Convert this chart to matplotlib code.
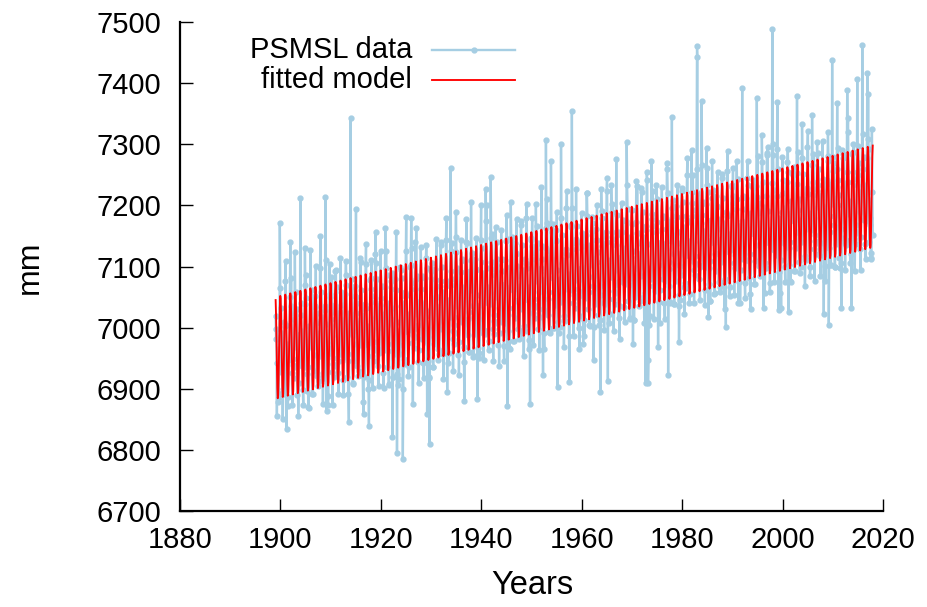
import numpy as np
import matplotlib
matplotlib.use('Agg')
import matplotlib.pyplot as plt

plt.rcParams['font.family'] = ['Liberation Sans', 'DejaVu Sans']

# monthly mean sea level (mm), one row per year, Jan..Dec
first_year = 1899
sea_level = [
    [7019, 6981, 6998, 6856, 6942, 6878, 6943, 6887, 6965, 6928, 7172, 7065],  # 1899
    [6987, 7033, 6950, 6992, 6894, 6850, 6900, 6944, 6892, 7010, 7003, 7077],
    [7109, 7005, 6834, 6974, 6956, 6872, 6887, 6966, 6964, 6947, 7050, 7140],
    [7036, 7082, 7024, 6926, 6873, 6939, 6949, 6918, 6936, 7014, 7124, 7031],
    [7058, 6969, 7031, 6978, 6890, 6951, 6856, 6910, 6983, 6971, 6989, 7212],
    [7020, 7041, 6938, 6995, 6972, 6898, 6873, 6982, 6935, 7038, 7130, 7070],
    [7087, 7048, 6965, 6897, 6924, 6935, 6870, 6869, 7002, 6970, 6978, 7127],
    [7049, 7005, 7062, 6974, 6891, 6892, 6977, 6956, 6929, 7052, 7035, 7034],
    [7101, 7007, 7024, 6921, 6968, 6904, 6969, 6913, 6991, 6954, 7097, 7150],
    [7013, 7059, 6976, 7018, 6920, 6876, 6926, 6970, 6918, 7036, 7029, 7214],
    [7110, 7006, 6864, 6975, 6957, 6873, 6888, 6967, 6965, 7105, 7051, 7055],  # 1909
    [7037, 7083, 7025, 6927, 6874, 6940, 6950, 6919, 6937, 7015, 7093, 7032],
    [7094, 7005, 7067, 7014, 6926, 6987, 6892, 6946, 7019, 7007, 7025, 7114],
    [7037, 7058, 6955, 7012, 6989, 6915, 6890, 6999, 6952, 7055, 7003, 7087],
    [7109, 7070, 6987, 6919, 6946, 6957, 6892, 6846, 7024, 6992, 7000, 7343],
    [7066, 7022, 7079, 6991, 6908, 6909, 6994, 6973, 6946, 7069, 7052, 7051],
    [7194, 7024, 7041, 6938, 6985, 6921, 6986, 6930, 7008, 6971, 7114, 7108],
    [7015, 7061, 6978, 7020, 6922, 6878, 6859, 6972, 6920, 7038, 7031, 7105],
    [7137, 7033, 6980, 7002, 6984, 6900, 6915, 6839, 6992, 6975, 7078, 7082],
    [7064, 7110, 7052, 6954, 6901, 6967, 6977, 6946, 6964, 7042, 7120, 7157],
    [7106, 7017, 7079, 7026, 6938, 6999, 6904, 6958, 7031, 7019, 7037, 7126],  # 1919
    [7048, 7069, 6966, 7023, 7000, 6926, 6901, 7010, 6963, 7066, 7163, 7098],
    [7125, 7086, 7003, 6935, 6962, 6973, 6908, 6907, 7040, 7008, 7016, 7085],
    [7077, 7033, 7090, 6821, 6919, 6920, 7005, 6984, 6957, 7080, 7063, 7062],
    [7157, 7010, 6795, 6924, 6971, 6907, 6972, 6916, 6994, 6957, 7100, 7094],
    [7036, 7082, 6999, 7041, 6785, 6899, 6949, 6993, 6941, 7059, 7052, 7126],
    [7181, 7054, 7001, 7023, 7005, 6921, 6936, 7015, 7013, 6996, 7099, 7103],
    [7180, 7131, 7073, 6975, 6875, 6988, 6998, 6967, 6985, 7063, 7141, 7080],
    [7163, 7023, 7085, 7032, 6944, 7005, 6910, 6964, 7037, 7025, 7043, 7132],
    [7064, 7085, 6982, 7039, 7016, 6942, 6917, 7026, 6979, 7082, 7030, 7114],
    [7136, 7097, 6859, 6946, 6973, 6984, 6919, 6918, 6810, 7019, 7027, 7096],  # 1929
    [7093, 7049, 7106, 7018, 6935, 6936, 7021, 7000, 6973, 7096, 7079, 7078],
    [7145, 7051, 7068, 6965, 7012, 6948, 7013, 6957, 7035, 6998, 7141, 7135],
    [7053, 7099, 7016, 7058, 6960, 6916, 6966, 7010, 6958, 7076, 7069, 7143],
    [7180, 7076, 6895, 7045, 7027, 6943, 6958, 7037, 7035, 7018, 7261, 7125],
    [7092, 7138, 7080, 6982, 6929, 6995, 7005, 6974, 6992, 7070, 7148, 7190],
    [7124, 7035, 7097, 7044, 6956, 7017, 6922, 6976, 7049, 7037, 7055, 7144],
    [7091, 7112, 7009, 7066, 7043, 6969, 6944, 6880, 7006, 7109, 7057, 7141],
    [7178, 7139, 7056, 6988, 7015, 7026, 6961, 6960, 7093, 7061, 7069, 7205],
    [7110, 7066, 7123, 7035, 6952, 6953, 7038, 7017, 6990, 7113, 7096, 7095],
    [7147, 7053, 6883, 6967, 7014, 6950, 7015, 6959, 7037, 7000, 7143, 7200],  # 1939
    [7084, 7130, 7047, 7089, 6991, 6947, 6997, 7041, 6989, 7107, 7227, 7174],
    [7201, 7097, 7044, 7066, 7048, 6964, 6979, 7058, 7056, 7039, 7246, 7146],
    [7108, 7154, 7096, 6998, 6945, 7011, 7021, 6990, 7008, 7086, 7164, 7103],
    [7140, 7051, 7113, 7060, 6972, 7033, 6938, 6992, 7065, 7053, 7071, 7160],
    [7092, 7113, 7010, 7067, 7044, 6970, 6945, 7054, 7007, 7110, 7058, 7142],
    [7184, 7145, 6872, 6994, 7021, 7032, 6967, 6966, 7099, 7067, 7205, 7144],
    [7136, 7092, 7149, 7061, 6978, 6979, 7064, 7043, 7016, 7139, 7122, 7121],
    [7178, 7084, 7101, 6998, 7045, 6981, 7046, 6990, 7068, 7031, 7174, 7168],
    [7090, 7136, 7053, 7095, 6997, 6953, 7003, 7047, 6995, 7113, 7106, 7180],
    [7202, 7098, 7045, 7067, 7049, 6965, 6980, 7059, 6875, 7040, 7143, 7147],  # 1949
    [7134, 7180, 7122, 7024, 6971, 7037, 7047, 7016, 7034, 7112, 7203, 7129],
    [7166, 7077, 7139, 7086, 6998, 7059, 6964, 7018, 7091, 7079, 7097, 7230],
    [7113, 7134, 7031, 6922, 7065, 6991, 6966, 7075, 7028, 7131, 7307, 7163],
    [7210, 7171, 7088, 7020, 7047, 7058, 6993, 6992, 7125, 7093, 7273, 7170],
    [7157, 7113, 7170, 7082, 6999, 7000, 7085, 7064, 7037, 7160, 7143, 7142],
    [7189, 7095, 6903, 7009, 7056, 6992, 7057, 7001, 7079, 7042, 7301, 7179],
    [7106, 7152, 7069, 7111, 7013, 6969, 7019, 7063, 7011, 7129, 7122, 7196],
    [7223, 7119, 7066, 7088, 7070, 6986, 6912, 7080, 7078, 7061, 7164, 7168],
    [7355, 7196, 7138, 7040, 6987, 7053, 7063, 7032, 7050, 7128, 7227, 7145],
    [7167, 7078, 7140, 7087, 6999, 7060, 6965, 7019, 7092, 7080, 7098, 7187],  # 1959
    [7134, 7155, 7052, 6973, 7086, 7012, 6987, 7096, 7049, 7152, 7100, 7221],
    [7221, 7182, 7099, 7031, 7058, 7069, 7004, 7003, 7136, 7104, 7112, 7181],
    [7158, 7114, 7171, 7083, 6947, 7001, 7086, 7065, 7038, 7161, 7144, 7143],
    [7201, 7107, 7124, 7021, 7068, 7004, 7069, 7013, 6895, 7054, 7227, 7191],
    [7133, 7179, 7096, 7138, 7040, 6996, 7046, 7090, 7038, 7156, 7149, 7223],
    [7245, 7141, 6913, 7110, 7092, 7008, 7023, 7102, 7100, 7083, 7234, 7190],
    [7157, 7203, 7145, 7047, 6994, 7060, 7070, 7039, 7057, 7135, 7276, 7152],
    [7184, 7095, 7157, 7104, 7016, 7077, 6982, 7036, 7109, 7097, 7115, 7204],
    [7156, 7177, 7074, 7131, 7108, 7034, 7009, 7118, 7071, 7174, 7122, 7304],
    [7233, 7194, 7111, 7043, 7070, 7081, 7016, 7015, 7148, 7116, 7124, 7193],  # 1969
    [7170, 7126, 6973, 7095, 7012, 7013, 7098, 7077, 7050, 7173, 7240, 7155],
    [7232, 7138, 7155, 7052, 7099, 7035, 7100, 7044, 7122, 7085, 7228, 7222],
    [7144, 7190, 7107, 7149, 7051, 7007, 7057, 7101, 6910, 7167, 7160, 7255],
    [7241, 7137, 6910, 6948, 7088, 7004, 7019, 7098, 7096, 7079, 7273, 7186],
    [7178, 7224, 7166, 7068, 7015, 7081, 7091, 7060, 7078, 7156, 7234, 7173],
    [7210, 7121, 6968, 7130, 7042, 7103, 7008, 7062, 7135, 7123, 7141, 7230],
    [7162, 7183, 7080, 7137, 7114, 7040, 7015, 7124, 7077, 7180, 7128, 7270],
    [7259, 7220, 6922, 7069, 7096, 7107, 7042, 7041, 7174, 7142, 7150, 7345],
    [7196, 7152, 7209, 7121, 7038, 7039, 7124, 7103, 7076, 7199, 7182, 7181],
    [7233, 7139, 7156, 7053, 6977, 7036, 7101, 7045, 7123, 7086, 7229, 7223],  # 1979
    [7160, 7206, 7123, 7165, 7067, 7023, 7073, 7117, 7065, 7183, 7176, 7250],
    [7277, 7173, 7120, 7142, 7124, 7040, 7055, 7134, 7132, 7115, 7290, 7222],
    [7204, 7250, 7192, 7094, 7041, 7107, 7117, 7086, 7104, 7182, 7260, 7461],
    [7443, 7158, 7220, 7167, 7079, 7140, 7045, 7099, 7172, 7160, 7371, 7267],
    [7184, 7205, 7102, 7159, 7136, 7062, 7037, 7146, 7099, 7202, 7294, 7234],
    [7261, 7222, 7017, 7071, 7098, 7109, 7044, 7043, 7176, 7144, 7152, 7273],
    [7213, 7169, 7226, 7138, 7055, 7056, 7141, 7120, 7093, 7216, 7199, 7198],
    [7255, 7161, 7178, 7075, 7122, 7058, 7123, 7067, 7145, 7108, 7251, 7245],
    [7167, 7213, 7130, 7172, 7074, 7030, 7080, 7124, 7001, 7190, 7183, 7257],
    [7289, 7185, 7132, 7154, 7136, 7052, 7067, 7146, 7144, 7127, 7230, 7234],  # 1989
    [7216, 7262, 7204, 7106, 7053, 7119, 7129, 7098, 7116, 7194, 7272, 7211],
    [7243, 7154, 7040, 7163, 7075, 7136, 7041, 7095, 7168, 7156, 7174, 7392],
    [7195, 7216, 7113, 7170, 7147, 7073, 7048, 7157, 7110, 7213, 7161, 7245],
    [7272, 7233, 7150, 7082, 7109, 7120, 7055, 7031, 7187, 7155, 7163, 7232],
    [7229, 7185, 7242, 7154, 7071, 7072, 7157, 7136, 7109, 7232, 7376, 7214],
    [7281, 7187, 7204, 7101, 7148, 7084, 7149, 7093, 7171, 7134, 7315, 7271],
    [7193, 7239, 7032, 7198, 7100, 7056, 7106, 7150, 7098, 7216, 7286, 7283],
    [7295, 7191, 7138, 7160, 7142, 7058, 7073, 7152, 7150, 7133, 7236, 7489],
    [7300, 7283, 7225, 7127, 7074, 7140, 7150, 7119, 7137, 7215, 7293, 7369],
    [7259, 7170, 7029, 7179, 7091, 7152, 7057, 7111, 7032, 7172, 7190, 7279],  # 1999
    [7221, 7242, 7139, 7196, 7173, 7099, 7074, 7183, 7136, 7239, 7187, 7271],
    [7293, 7254, 7026, 7103, 7130, 7141, 7076, 7075, 7208, 7176, 7184, 7253],
    [7250, 7206, 7263, 7175, 7092, 7093, 7178, 7157, 7130, 7253, 7379, 7235],
    [7287, 7193, 7210, 7107, 7154, 7090, 7155, 7099, 7177, 7140, 7333, 7277],
    [7205, 7251, 7168, 7210, 7112, 7068, 7118, 7162, 7110, 7228, 7221, 7295],
    [7322, 7218, 7165, 7187, 7169, 7085, 7100, 7179, 7177, 7160, 7348, 7267],
    [7239, 7285, 7227, 7129, 7076, 7142, 7152, 7121, 7139, 7217, 7304, 7234],
    [7286, 7197, 7259, 7206, 7118, 7179, 7084, 7138, 7211, 7199, 7217, 7306],
    [7223, 7244, 7022, 7198, 7175, 7101, 7076, 7185, 7138, 7241, 7189, 7273],
    [7320, 7281, 7004, 7130, 7157, 7168, 7103, 7102, 7235, 7203, 7438, 7280],  # 2009
    [7257, 7213, 7270, 7182, 7099, 7100, 7185, 7164, 7137, 7260, 7367, 7242],
    [7294, 7200, 7217, 7114, 7161, 7097, 7162, 7106, 7032, 7147, 7290, 7284],
    [7231, 7277, 7194, 7236, 7138, 7094, 7144, 7188, 7136, 7254, 7389, 7321],
    [7343, 7239, 7186, 7208, 7190, 7106, 7121, 7200, 7032, 7181, 7284, 7288],
    [7255, 7301, 7243, 7145, 7092, 7158, 7168, 7137, 7155, 7233, 7407, 7250],
    [7297, 7208, 7270, 7217, 7129, 7190, 7095, 7149, 7222, 7210, 7463, 7317],
    [7259, 7280, 7177, 7234, 7211, 7137, 7112, 7221, 7174, 7277, 7416, 7309],
    [7382, 7292, 7209, 7141, 7168, 7179, 7114, 7113, 7122, 7325, 7222, 7152],  # 2017
]

x_ticks = [1880, 1900, 1920, 1940, 1960, 1980, 2000, 2020]
y_ticks = [6700, 6800, 6900, 7000, 7100, 7200, 7300, 7400, 7500]

data_color = '#a6cee3'
model_color = '#ff0000'

# time axis in decimal years (mid-month)
level = np.array(sea_level, dtype=float)
years = first_year + np.arange(level.shape[0])
t = (years[:, None] + (np.arange(12) + 0.5) / 12.0).ravel()
h = level.ravel()

# least squares fit: linear trend + annual cycle
A = np.column_stack([np.ones_like(t), t - t.mean(),
                     np.cos(2 * np.pi * t), np.sin(2 * np.pi * t)])
coef, *_ = np.linalg.lstsq(A, h, rcond=None)
model = A @ coef

fig = plt.figure(figsize=(9.28, 6.07), dpi=100)
ax = fig.add_axes([0.194, 0.158, 0.7575, 0.8056])

ax.plot(t, h, color=data_color, lw=1.7, marker='o', ms=3.5, zorder=2)
ax.plot(t, model, color=model_color, lw=1.35, zorder=3)

ax.set_xlim(1880, 2020)
ax.set_ylim(6700, 7500)
ax.set_xticks(x_ticks)
ax.set_yticks(y_ticks)

# gnuplot-like frame: only left and bottom, ticks inward
for side in ['top', 'right']:
    ax.spines[side].set_visible(False)
for side in ['left', 'bottom']:
    ax.spines[side].set_linewidth(1.6)
ax.tick_params(axis='both', direction='in', length=9, width=1.0,
               labelsize=21, colors='black')
ax.tick_params(axis='y', pad=13.5)
ax.tick_params(axis='x', pad=10.5)

ax.set_xlabel('Years', fontsize=23.5, va='center')
ax.xaxis.set_label_coords(0.501, -0.152)
ax.set_ylabel('mm', fontsize=23, va='center')
ax.yaxis.set_label_coords(-0.213, 0.499)

# key, text right-aligned left of the samples
rows = [('PSMSL data', data_color, 0.943, True),
        ('fitted model', model_color, 0.882, False)]
for label, col, yy, dot in rows:
    ax.text(0.330, yy, label, transform=ax.transAxes, ha='right',
            va='center', fontsize=21)
    ax.plot([0.358, 0.477], [yy, yy], transform=ax.transAxes,
            color=col, lw=1.7 if dot else 1.35, clip_on=False)
    if dot:
        ax.plot([0.4175], [yy], transform=ax.transAxes, marker='o',
                ms=3.5, color=col, clip_on=False)

fig.savefig('out.png', dpi=100)
